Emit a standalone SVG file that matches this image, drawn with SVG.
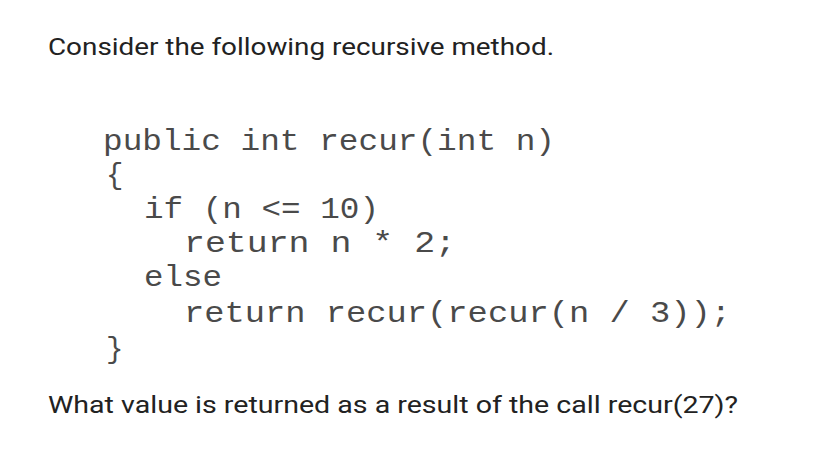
<svg xmlns="http://www.w3.org/2000/svg" width="820" height="464" viewBox="0 0 820 464">
<style>
.t{font-family:Roboto,"Liberation Sans",sans-serif;font-size:24px;fill:#222}
.c{font-family:"Liberation Mono","Courier New",monospace;font-size:29px;fill:#4a4a4a}
</style>
<rect width="820" height="464" fill="#fff"/>
<text class="t" x="48" y="55" textLength="506" lengthAdjust="spacingAndGlyphs">Consider the following recursive method.</text>
<text class="c" x="103" y="150" textLength="452" lengthAdjust="spacingAndGlyphs">public int recur(int n)</text>
<text class="c" x="106" y="184">{</text>
<text class="c" x="144" y="218" textLength="235" lengthAdjust="spacingAndGlyphs">if (n &lt;= 10)</text>
<text class="c" x="184" y="252" textLength="272" lengthAdjust="spacingAndGlyphs">return n * 2;</text>
<text class="c" x="144" y="286" textLength="78" lengthAdjust="spacingAndGlyphs">else</text>
<text class="c" x="184" y="322" textLength="547" lengthAdjust="spacingAndGlyphs">return recur(recur(n / 3));</text>
<text class="c" x="106" y="358">}</text>
<text class="t" x="48" y="413" textLength="690" lengthAdjust="spacingAndGlyphs">What value is returned as a result of the call recur(27)?</text>
</svg>
